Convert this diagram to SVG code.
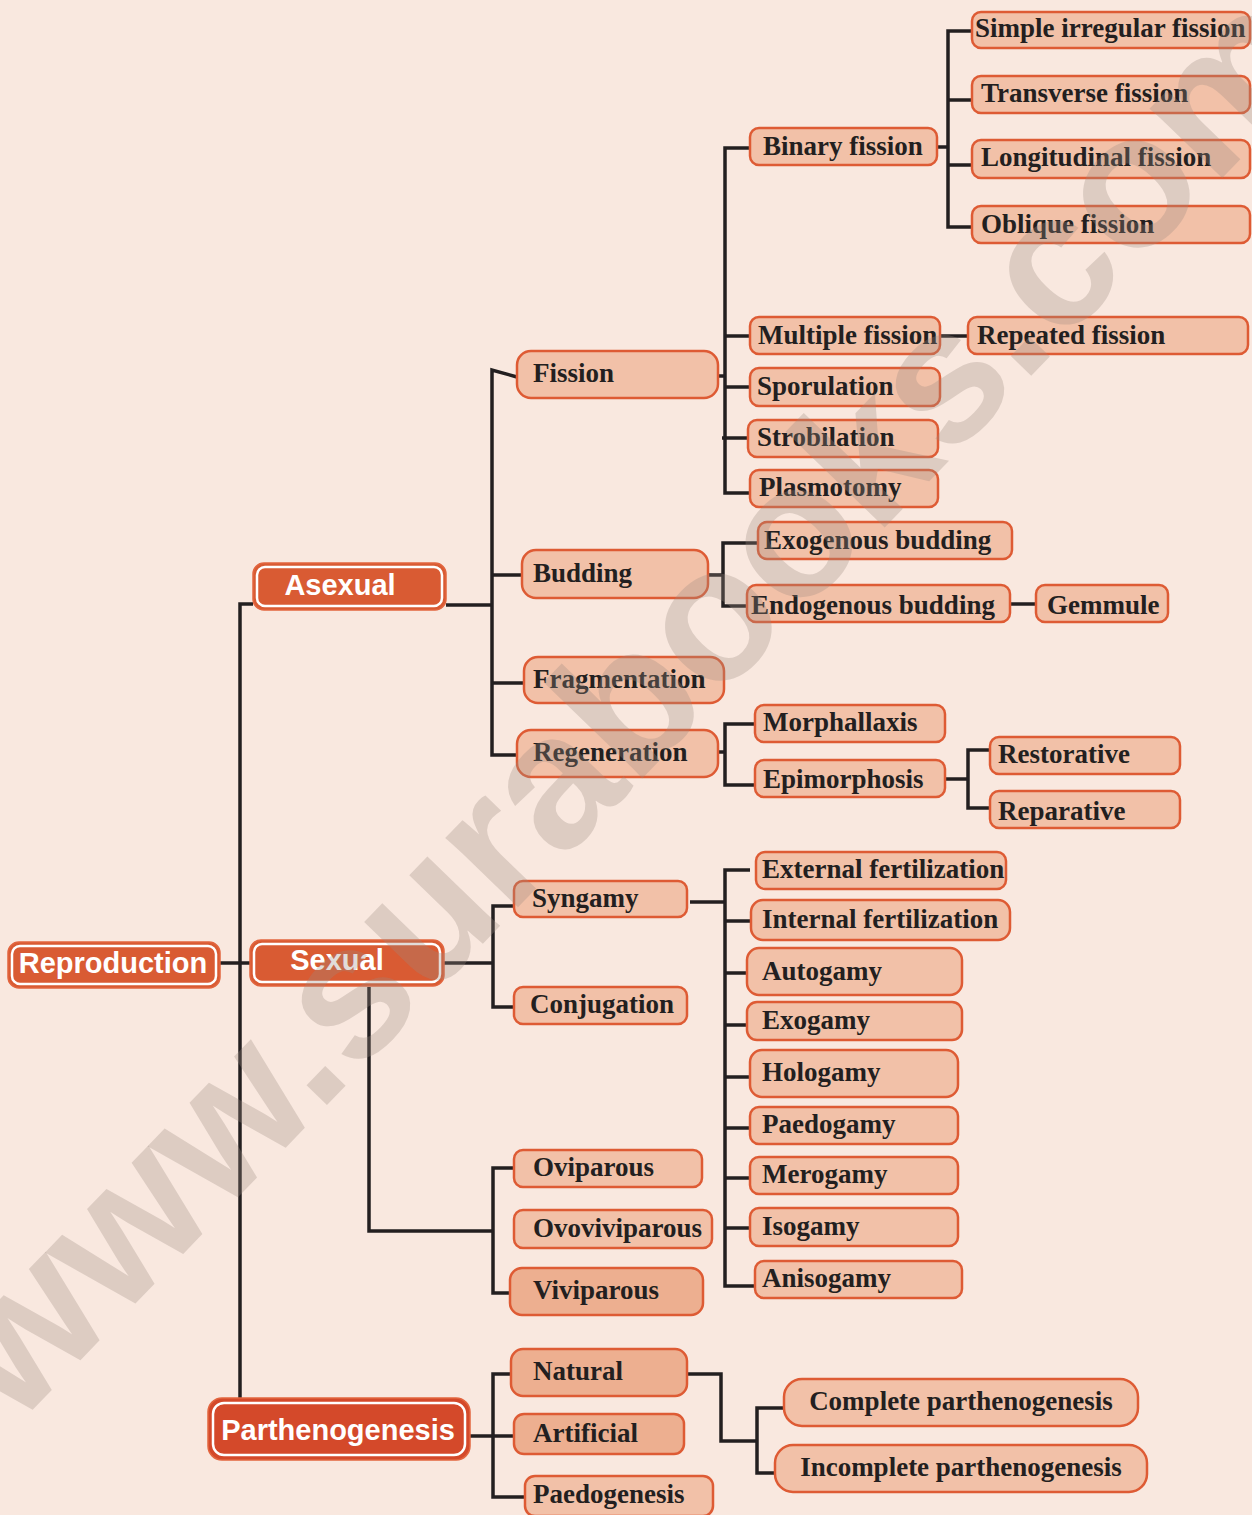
<svg xmlns="http://www.w3.org/2000/svg" width="1252" height="1515" viewBox="0 0 1252 1515">
<style>
.bg{fill:#F9E8DF}
.n{fill:#F2C1A8;stroke:#DE5B34;stroke-width:2.5}
.nd{fill:#EDAF90;stroke:#DE5B34;stroke-width:2.5}
.t{font-family:"Liberation Serif","Times New Roman",serif;font-weight:bold;font-size:27px;fill:#231F20}
.mo{fill:#D95B33;stroke:#E2653F;stroke-width:1.5}
.mi{fill:none;stroke:#FFFFFF;stroke-width:2.5}
.mt{font-family:"Liberation Sans",Arial,sans-serif;font-weight:bold;font-size:29px;fill:#FFFFFF;text-anchor:middle}
.c{fill:none;stroke:#231F20;stroke-width:3.5;stroke-linejoin:miter}
.wm{font-family:"Liberation Sans",Arial,sans-serif;font-weight:bold;font-size:190px;fill:#9A8A80;fill-opacity:0.3}
</style>
<rect class="bg" x="0" y="0" width="1252" height="1515"/>

<g id="connectors">
<path class="c" d="M220,963 H250"/>
<path class="c" d="M253,604 H240 V1398"/>
<path class="c" d="M446,605 H492"/>
<path class="c" d="M517,377 L492,370 V755 H517"/>
<path class="c" d="M492,575 H522 M492,683 H524"/>
<path class="c" d="M718,376 H725"/>
<path class="c" d="M750,148 H725 V493 H750"/>
<path class="c" d="M725,336 H750 M725,387 H750 M722,438 H748"/>
<path class="c" d="M937,147 H948"/>
<path class="c" d="M972,31 H948 V227 H972 M948,100 H972 M948,165 H972"/>
<path class="c" d="M940,336 H968"/>
<path class="c" d="M708,575 H723"/>
<path class="c" d="M758,543 H723 V606 H747"/>
<path class="c" d="M1010,604 H1036"/>
<path class="c" d="M718,752 H725"/>
<path class="c" d="M755,724 H725 V785 H755"/>
<path class="c" d="M945,779 H968"/>
<path class="c" d="M990,750 H968 V808 H990"/>
<path class="c" d="M444,963 H493"/>
<path class="c" d="M514,906 H493 V1007 H514"/>
<path class="c" d="M690,902 H725"/>
<path class="c" d="M750,870 H725 V1286 H755"/>
<path class="c" d="M725,921 H751 M725,973 H747 M725,1025 H747 M725,1077 H750 M725,1128 H750 M725,1178 H750 M725,1228 H750"/>
<path class="c" d="M369,987 V1231 H493"/>
<path class="c" d="M514,1168 H493 V1293 H510"/>
<path class="c" d="M470,1436 H514"/>
<path class="c" d="M511,1374 H493 V1497 H525"/>
<path class="c" d="M687,1374 H721 V1441 H757"/>
<path class="c" d="M784,1408 H757 V1473 H775"/>
</g>

<g id="reproduction"><rect class="mo" x="8" y="942" width="212" height="46" rx="11"/><rect class="mi" x="12" y="946" width="204" height="38" rx="8"/><text class="mt" x="113" y="973">Reproduction</text></g>
<g id="asexual"><rect class="mo" x="253" y="563" width="193" height="47" rx="11"/><rect class="mi" x="257" y="567" width="185" height="39" rx="8"/><text class="mt" x="340" y="595">Asexual</text></g>
<g id="sexual"><rect class="mo" x="250" y="940" width="194" height="46" rx="11"/><rect class="mi" x="254" y="944" width="186" height="38" rx="8"/><text class="mt" x="337" y="970">Sexual</text></g>
<g id="parthenogenesis"><rect class="mo" x="208" y="1398" width="262" height="62" rx="14" style="fill:#D4492A"/><rect class="mi" x="213" y="1403" width="252" height="52" rx="11"/><text class="mt" x="338" y="1440">Parthenogenesis</text></g>

<g id="fission"><rect class="n" x="517" y="351" width="201" height="47" rx="14"/><text class="t" x="533" y="382">Fission</text></g>
<g id="binary-fission"><rect class="n" x="750" y="128" width="187" height="37" rx="9"/><text class="t" x="763" y="155">Binary fission</text></g>
<g id="simple-irregular-fission"><rect class="n" x="972" y="12" width="278" height="36" rx="9"/><text class="t" x="975" y="37">Simple irregular fission</text></g>
<g id="transverse-fission"><rect class="n" x="972" y="76" width="278" height="37" rx="9"/><text class="t" x="981" y="102">Transverse fission</text></g>
<g id="longitudinal-fission"><rect class="n" x="972" y="140" width="278" height="38" rx="9"/><text class="t" x="981" y="166">Longitudinal fission</text></g>
<g id="oblique-fission"><rect class="n" x="972" y="206" width="278" height="37" rx="9"/><text class="t" x="981" y="233">Oblique fission</text></g>
<g id="multiple-fission"><rect class="n" x="750" y="317" width="190" height="37" rx="9"/><text class="t" x="758" y="344">Multiple fission</text></g>
<g id="repeated-fission"><rect class="n" x="968" y="317" width="280" height="37" rx="9"/><text class="t" x="977" y="344">Repeated fission</text></g>
<g id="sporulation"><rect class="n" x="750" y="368" width="190" height="38" rx="9"/><text class="t" x="757" y="395">Sporulation</text></g>
<g id="strobilation"><rect class="n" x="748" y="420" width="190" height="37" rx="9"/><text class="t" x="757" y="446">Strobilation</text></g>
<g id="plasmotomy"><rect class="n" x="750" y="470" width="188" height="37" rx="9"/><text class="t" x="759" y="496">Plasmotomy</text></g>

<g id="budding"><rect class="n" x="522" y="550" width="186" height="48" rx="14"/><text class="t" x="533" y="582">Budding</text></g>
<g id="exogenous-budding"><rect class="n" x="758" y="522" width="254" height="37" rx="9"/><text class="t" x="764" y="549">Exogenous budding</text></g>
<g id="endogenous-budding"><rect class="n" x="747" y="585" width="263" height="37" rx="9"/><text class="t" x="751" y="614">Endogenous budding</text></g>
<g id="gemmule"><rect class="n" x="1036" y="585" width="132" height="37" rx="9"/><text class="t" x="1047" y="614">Gemmule</text></g>

<g id="fragmentation"><rect class="n" x="524" y="657" width="200" height="46" rx="14"/><text class="t" x="533" y="688">Fragmentation</text></g>

<g id="regeneration"><rect class="n" x="517" y="730" width="201" height="47" rx="14"/><text class="t" x="533" y="761">Regeneration</text></g>
<g id="morphallaxis"><rect class="n" x="755" y="705" width="190" height="37" rx="9"/><text class="t" x="763" y="731">Morphallaxis</text></g>
<g id="epimorphosis"><rect class="n" x="755" y="760" width="190" height="37" rx="9"/><text class="t" x="763" y="788">Epimorphosis</text></g>
<g id="restorative"><rect class="n" x="990" y="737" width="190" height="37" rx="9"/><text class="t" x="998" y="763">Restorative</text></g>
<g id="reparative"><rect class="n" x="990" y="791" width="190" height="37" rx="9"/><text class="t" x="998" y="820">Reparative</text></g>

<g id="syngamy"><rect class="n" x="514" y="881" width="173" height="36" rx="9"/><text class="t" x="532" y="907">Syngamy</text></g>
<g id="conjugation"><rect class="n" x="514" y="987" width="173" height="37" rx="9"/><text class="t" x="530" y="1013">Conjugation</text></g>
<g id="external-fertilization"><rect class="n" x="756" y="852" width="250" height="37" rx="9"/><text class="t" x="762" y="878">External fertilization</text></g>
<g id="internal-fertilization"><rect class="n" x="751" y="900" width="259" height="40" rx="12"/><text class="t" x="762" y="928">Internal fertilization</text></g>
<g id="autogamy"><rect class="n" x="747" y="948" width="215" height="47" rx="12"/><text class="t" x="762" y="980">Autogamy</text></g>
<g id="exogamy"><rect class="n" x="747" y="1002" width="215" height="38" rx="10"/><text class="t" x="762" y="1029">Exogamy</text></g>
<g id="hologamy"><rect class="n" x="750" y="1050" width="208" height="47" rx="12"/><text class="t" x="762" y="1081">Hologamy</text></g>
<g id="paedogamy"><rect class="n" x="750" y="1107" width="208" height="37" rx="9"/><text class="t" x="762" y="1133">Paedogamy</text></g>
<g id="merogamy"><rect class="n" x="750" y="1157" width="208" height="37" rx="9"/><text class="t" x="762" y="1183">Merogamy</text></g>
<g id="isogamy"><rect class="n" x="750" y="1208" width="208" height="38" rx="9"/><text class="t" x="762" y="1235">Isogamy</text></g>
<g id="anisogamy"><rect class="n" x="755" y="1261" width="207" height="37" rx="9"/><text class="t" x="762" y="1287">Anisogamy</text></g>

<g id="oviparous"><rect class="n" x="514" y="1150" width="188" height="37" rx="9"/><text class="t" x="533" y="1176">Oviparous</text></g>
<g id="ovoviviparous"><rect class="n" x="514" y="1210" width="198" height="38" rx="9"/><text class="t" x="533" y="1237">Ovoviviparous</text></g>
<g id="viviparous"><rect class="nd" x="510" y="1268" width="193" height="47" rx="12"/><text class="t" x="533" y="1299">Viviparous</text></g>

<g id="natural"><rect class="nd" x="511" y="1349" width="176" height="47" rx="12"/><text class="t" x="533" y="1380">Natural</text></g>
<g id="artificial"><rect class="nd" x="514" y="1414" width="170" height="40" rx="10"/><text class="t" x="533" y="1442">Artificial</text></g>
<g id="paedogenesis"><rect class="n" x="525" y="1476" width="188" height="40" rx="10"/><text class="t" x="533" y="1503">Paedogenesis</text></g>
<g id="complete-parthenogenesis"><rect class="n" x="784" y="1379" width="354" height="47" rx="18"/><text class="t" x="961" y="1410" text-anchor="middle">Complete parthenogenesis</text></g>
<g id="incomplete-parthenogenesis"><rect class="n" x="775" y="1445" width="372" height="47" rx="18"/><text class="t" x="961" y="1476" text-anchor="middle">Incomplete parthenogenesis</text></g>

<text class="wm" transform="translate(15,1428) rotate(-46)">www.surabooks.com</text>
</svg>
